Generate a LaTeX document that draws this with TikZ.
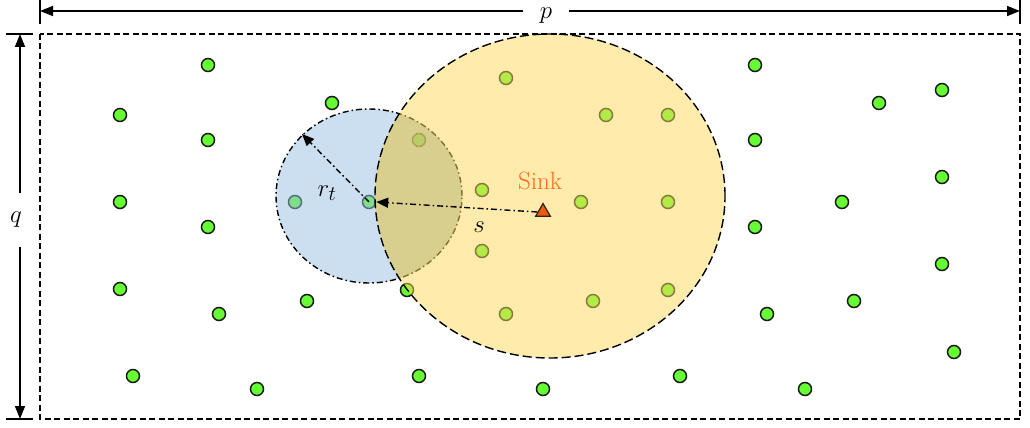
\documentclass[tikz,border=0pt]{standalone}
\usetikzlibrary{arrows.meta,shapes.geometric}
\definecolor{dotgreen}{HTML}{66FF33}
\definecolor{bluefill}{HTML}{99BFE3}
\definecolor{yelfill}{HTML}{FFD95C}
\definecolor{overlapc}{HTML}{A89A30}
\definecolor{sinkor}{HTML}{FF6A1A}
\definecolor{trifill}{HTML}{EE5A0A}
\begin{document}
\begin{tikzpicture}[x=1pt,y=-1pt,
  sensor/.style={circle,draw=black!90,fill=dotgreen,line width=1.5pt,minimum size=13pt,inner sep=0pt},
  dimline/.style={line width=1.5pt,-{Triangle[length=13pt,width=10pt]}},
  tickline/.style={line width=1.4pt},
  lbl/.style={font=\fontsize{30}{30}\selectfont,inner sep=0pt},
  radarrow/.style={line width=1.4pt,dash pattern=on 6pt off 3pt on 1.5pt off 3pt,-{Triangle[length=12pt,width=10pt]}},
  frame/.style={line width=1.3pt,dash pattern=on 6pt off 3.5pt},
  bluering/.style={line width=1.4pt,dash pattern=on 6pt off 3pt on 1.5pt off 3pt},
  yelring/.style={line width=1.4pt,dash pattern=on 9pt off 4pt}
]
\useasboundingbox (0,0) rectangle (1030,428);

% sensors
\foreach \px/\py [count=\i] in {208/65,120/115,332/103,208/140,120/202,295/202,208/227,120/289,307/301,219/314,133/376,257/389,
  506/78,606/115,668/115,419/140,482/190,581/202,668/202,482/251,407/290,668/290,593/301,506/314,
  419/376,543/389,680/376,
  755/65,942/90,879/103,755/140,942/177,842/202,755/227,942/264,854/301,767/314,954/352,805/389}
  \node[sensor] (n\i) at (\px,\py) {};
\node[sensor] (c) at (369,202) {};

% blue circle
\fill[bluefill,fill opacity=0.5] (369,196) ellipse [x radius=93pt, y radius=87pt];
\draw[bluering] (369,196) ellipse [x radius=93pt, y radius=87pt];
% yellow circle
\fill[yelfill,fill opacity=0.5] (550,196) ellipse [x radius=175pt, y radius=162pt];
\begin{scope}
  \clip (369,196) ellipse [x radius=93pt, y radius=87pt];
  \fill[overlapc,fill opacity=0.2] (550,196) ellipse [x radius=175pt, y radius=162pt];
\end{scope}
\draw[yelring] (550,196) ellipse [x radius=175pt, y radius=162pt];

% frame
\draw[frame] (40,34) rectangle (1020,419);

% sink
\node[regular polygon,regular polygon sides=3,fill=trifill,draw=black!75!brown,line width=1.2pt,minimum size=17pt,inner sep=0pt] (sink) at (543,212) {};
\node[font=\fontsize{25}{25}\selectfont,text=sinkor] (sinklbl) at (540,181) {Sink};

% radius arrow r_t
\coordinate (rt) at (302,134);
\draw[radarrow] (c.center) -- (rt);
\node[font=\fontsize{28}{28}\selectfont,inner sep=0pt] (rtl) at (327,193) {$r_t$};

% s arrow
\draw[radarrow] (sink.west) -- (c.east);
\node[font=\fontsize{28}{28}\selectfont,inner sep=0pt] (sl) at (479,227) {$s$};

% p dimension
\coordinate (pa) at (40,11);
\coordinate (pb) at (1020,11);
\draw[tickline] (40,0) -- (40,24);
\draw[tickline] (1020,0) -- (1020,24);
\node[lbl,minimum width=46pt,anchor=base] (p) at (546,19) {$p$};
\draw[dimline] (p.west |- pa) -- (pa);
\draw[dimline] (p.east |- pb) -- (pb);

% q dimension
\coordinate (qa) at (20,34);
\coordinate (qb) at (20,419);
\draw[tickline] (6,34) -- (33,34);
\draw[tickline] (6,419) -- (33,419);
\node[lbl,minimum height=54pt] (q) at (16,220) {$q$};
\draw[dimline] (20,193) -- (qa);
\draw[dimline] (20,247) -- (qb);
\end{tikzpicture}
\end{document}
